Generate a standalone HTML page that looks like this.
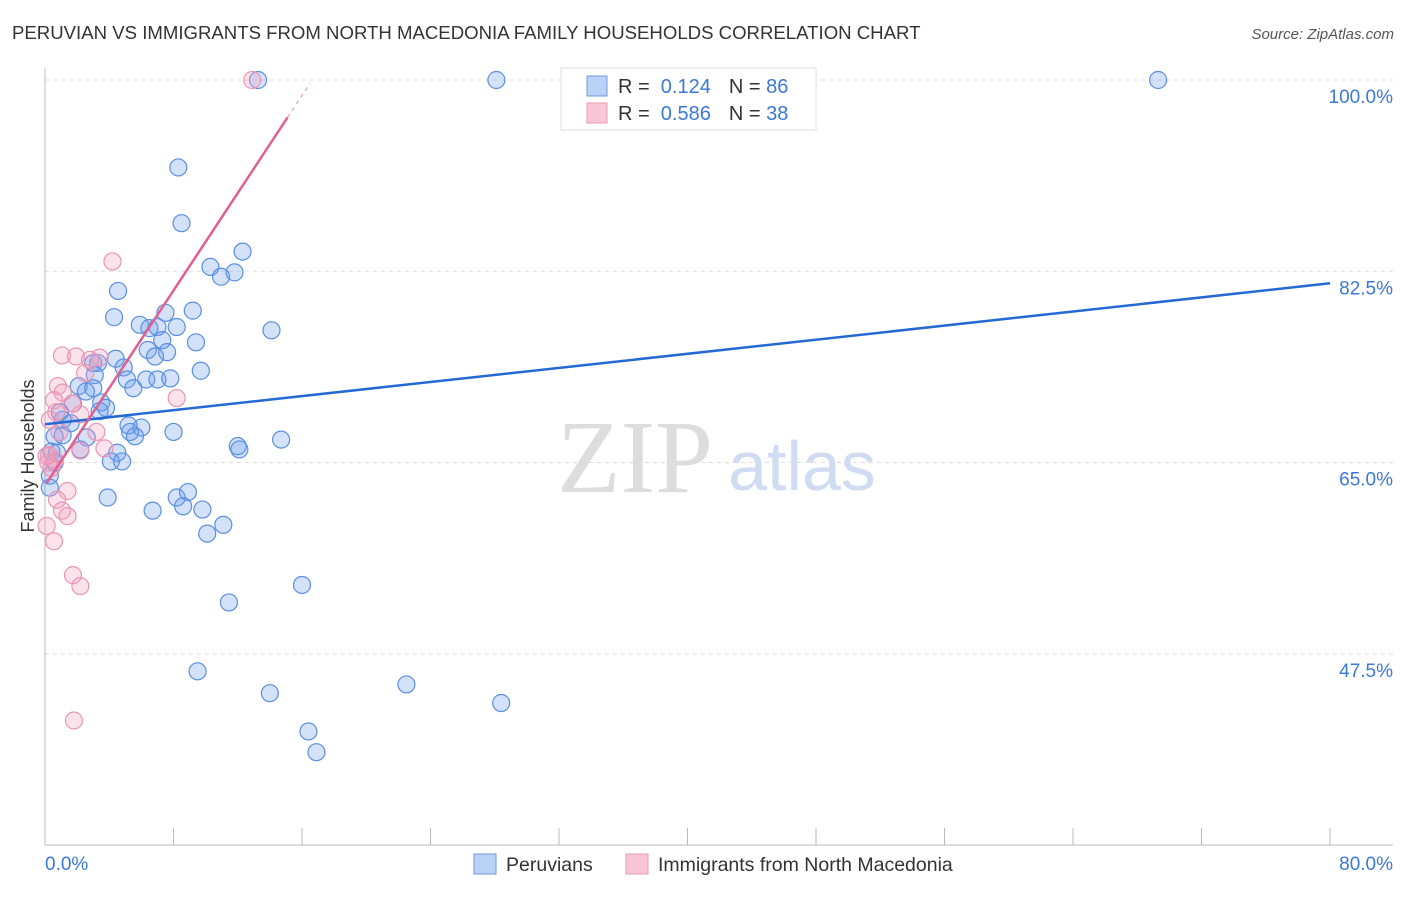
<!DOCTYPE html>
<html><head><meta charset="utf-8"><style>
body{margin:0;background:#fff;font-family:"Liberation Sans",sans-serif}
</style></head><body>
<svg width="1406" height="892" xmlns="http://www.w3.org/2000/svg" font-family="Liberation Sans, sans-serif">
<text x="12" y="39" font-size="18.6" fill="#333">PERUVIAN VS IMMIGRANTS FROM NORTH MACEDONIA FAMILY HOUSEHOLDS CORRELATION CHART</text>
<text x="1394" y="39" font-size="15" fill="#555" text-anchor="end" font-style="italic">Source: ZipAtlas.com</text>
<g id="grid"></g>
<g><text x="635" y="492" font-size="104" fill="#ddd" text-anchor="middle" style="font-family:'Liberation Serif',serif">ZIP</text><text x="802" y="490" font-size="70" fill="#cfdcf2" text-anchor="middle">atlas</text></g>
<line x1="45" y1="68" x2="45" y2="845" stroke="#bbb"/>
<line x1="45" y1="845" x2="1393" y2="845" stroke="#bbb"/>
<text transform="translate(34,456) rotate(-90)" font-size="18" fill="#333" text-anchor="middle">Family Households</text>
<text x="45" y="870" font-size="19" fill="#3b78d8">0.0%</text>
<text x="1393" y="870" font-size="19" fill="#3b78d8" text-anchor="end">80.0%</text>
<g id="pts"></g>
<g id="lines"></g>
<g>
<rect x="561" y="68" width="255" height="62" fill="#fff" stroke="#ddd"/>
<rect x="587" y="76" width="20" height="20" fill="#b9d2f5" stroke="#6a9be0"/>
<rect x="587" y="103" width="20" height="20" fill="#f8c6d6" stroke="#e89ab5"/>
<text x="618" y="93" font-size="20" fill="#333">R = <tspan fill="#3b78d8">&#160;0.124</tspan><tspan dx="18">N = </tspan><tspan fill="#3b78d8">86</tspan></text>
<text x="618" y="120" font-size="20" fill="#333">R = <tspan fill="#3b78d8">&#160;0.586</tspan><tspan dx="18">N = </tspan><tspan fill="#3b78d8">38</tspan></text>
</g>
<g>
<rect x="474" y="854" width="22" height="20" fill="#b9d2f5" stroke="#6a9be0"/>
<text x="506" y="871" font-size="19.5" fill="#333">Peruvians</text>
<rect x="626" y="854" width="22" height="20" fill="#f8c6d6" stroke="#e89ab5"/>
<text x="658" y="871" font-size="19.5" fill="#333">Immigrants from North Macedonia</text>
</g>
</svg>
<script>
const yTicks=[100,82.5,65,47.5];
const xTickCount=10;
const blueX=[13.26,28.1,69.3,8.3,8.5,12.3,10.3,11.8,10.96,4.55,9.2,4.3,7.5,5.9,6.5,7.0,8.2,14.1,7.3,9.4,6.4,7.6,6.85,4.4,3.0,3.3,4.9,9.7,3.1,5.1,6.3,7.0,7.8,2.1,5.5,3.0,2.55,1.74,3.5,3.8,3.4,0.93,1.1,1.6,5.2,6.0,5.3,8.0,5.6,0.6,2.6,1.1,14.7,12.0,12.1,2.2,4.5,0.4,4.1,4.8,0.6,0.3,0.3,3.9,8.2,8.9,8.6,9.8,6.7,11.1,10.1,16.0,11.45,9.5,22.5,14.0,28.4,16.4,16.9,0.75];
const blueY=[100,100,100,92.0,86.9,84.3,82.9,82.4,82.0,80.7,78.9,78.3,78.7,77.6,77.3,77.4,77.4,77.1,76.2,76.0,75.3,75.1,74.7,74.5,74.1,74.1,73.7,73.4,73.0,72.6,72.6,72.6,72.7,72.0,71.8,71.8,71.5,70.4,70.5,70.0,69.7,69.6,68.9,68.6,68.4,68.2,67.8,67.8,67.4,67.4,67.3,67.5,67.1,66.5,66.2,66.2,65.9,66.0,65.1,65.1,65.0,63.8,62.7,61.8,61.8,62.3,61.0,60.7,60.6,59.3,58.5,53.8,52.2,45.9,44.7,43.9,43.0,40.4,38.5,65.9];
const pinkX=[12.9,4.2,1.06,1.93,2.8,3.4,2.5,0.8,1.1,8.2,0.56,1.7,0.7,2.2,0.3,3.2,0.9,3.7,2.2,0.25,0.6,0.2,0.4,1.4,0.75,1.06,1.4,0.1,0.56,1.74,2.2,1.8,0.1];
const pinkY=[100,83.4,74.8,74.7,74.4,74.6,73.2,72.0,71.4,70.9,70.7,70.4,69.6,69.4,68.9,67.8,67.8,66.3,66.1,65.7,65.2,65.0,64.5,62.4,61.6,60.6,60.1,59.2,57.8,54.7,53.7,41.4,65.6];
const blueLine=[68.5,81.4];
const pinkLine=[62.9,2.23];
const NS="http://www.w3.org/2000/svg";
const xs=v=>45+v/80*1285, ys=v=>80+(100-v)*10.93;
function mk(t,a,p){const e=document.createElementNS(NS,t);for(const k in a)e.setAttribute(k,a[k]);p.appendChild(e);return e;}
const grid=document.getElementById('grid');
yTicks.forEach(t=>{
 const l=mk('line',{x1:45,x2:1393,y1:ys(t),y2:ys(t),stroke:'#ddd','stroke-dasharray':'4,4'},grid);
 
 
 const tx=mk('text',{x:1393,y:ys(t)+23,'font-size':19,fill:'#3b78d8','text-anchor':'end'},grid);tx.textContent=t.toFixed(1)+'%';
 
 
});
for(let i=0;i<=xTickCount;i++){const x=xs(i*8);const l=mk('line',{x1:x,x2:x,y1:828,y2:845,stroke:'#bbb'},grid);
 
 }
const pts=document.getElementById('pts');
blueX.forEach((x,i)=>{const c=mk('circle',{cx:xs(x),cy:ys(blueY[i]),r:8.5,fill:'rgba(110,160,235,0.3)',stroke:'#5b8fe0','stroke-width':1.2},pts);
 
 });
pinkX.forEach((x,i)=>{const c=mk('circle',{cx:xs(x),cy:ys(pinkY[i]),r:8.5,fill:'rgba(245,160,190,0.3)',stroke:'#e995b3','stroke-width':1.2},pts);
 
 });
const lines=document.getElementById('lines');
let b=mk('line',{x1:xs(0),y1:ys(blueLine[0]),x2:xs(80),y2:ys(blueLine[1]),stroke:'#2469d4','stroke-width':2.5},lines);


const pf=x=>pinkLine[0]+pinkLine[1]*x;
let p=mk('line',{x1:xs(0.1),y1:ys(pf(0.1)),x2:xs(15.1),y2:ys(pf(15.1)),stroke:'#e0608f','stroke-width':2.5},lines);


let pd=mk('line',{x1:xs(15.1),y1:ys(pf(15.1)),x2:xs(16.5),y2:ys(pf(16.5)),stroke:'#e8a0ba','stroke-width':1.2,'stroke-dasharray':'4,4'},lines);


</script>
</body></html>
